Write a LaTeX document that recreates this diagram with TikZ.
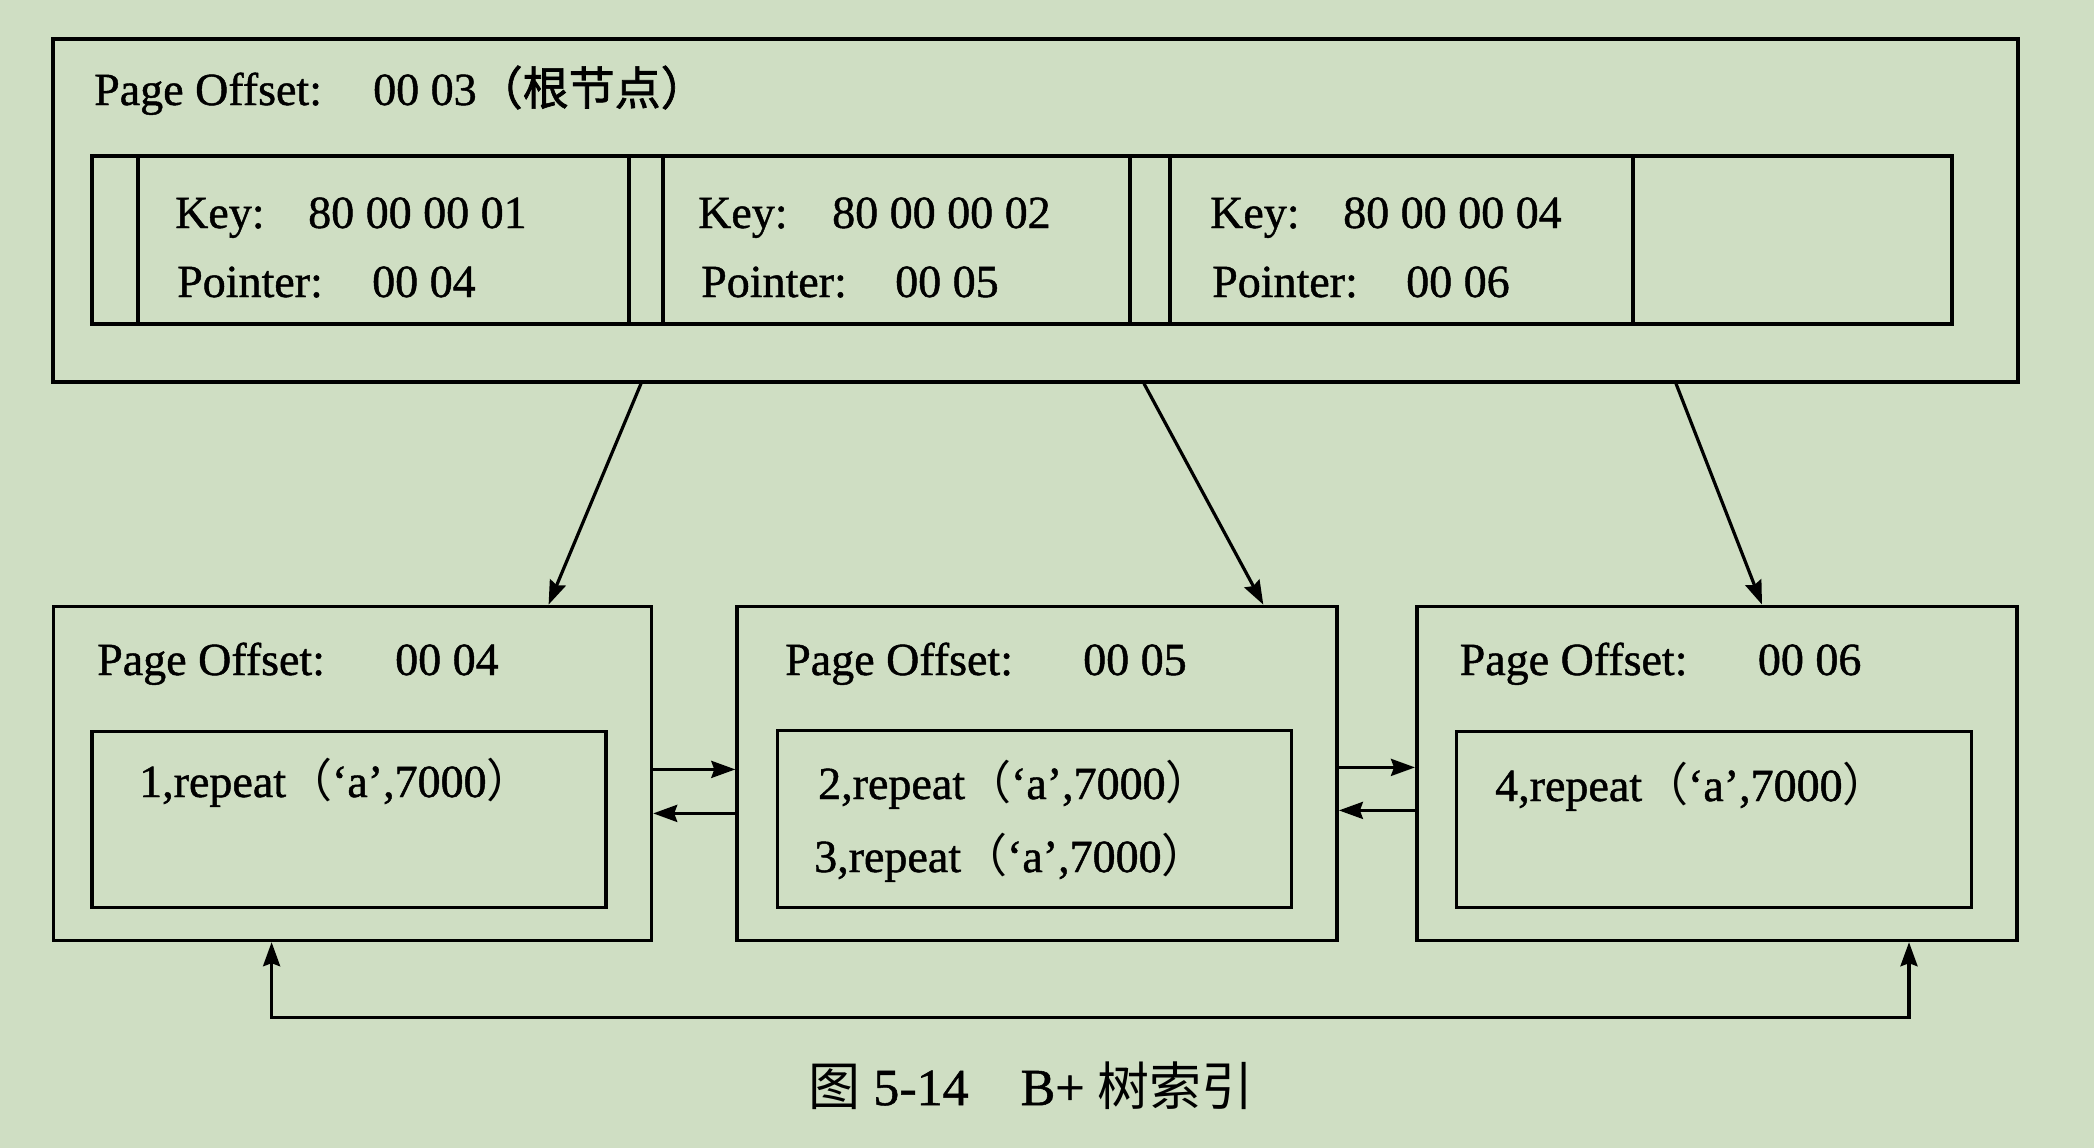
\documentclass[tikz,border=0pt]{standalone}
\usepackage{fontspec}
\setmainfont{Liberation Serif}[FakeBold=1]
\newfontfamily\cjk{Noto Sans CJK SC}
\newfontfamily\cjkb{Noto Sans CJK SC}[FakeBold=1.5]
\usetikzlibrary{arrows.meta,calc}
\definecolor{bg}{RGB}{207,222,195}
\begin{document}
\begin{tikzpicture}[x=1pt,y=-1pt,
  box/.style={draw=black, rectangle, inner sep=0pt, anchor=north west, line width=3.6pt},
  txt/.style={anchor=base west, inner sep=0pt, font=\fontsize{46}{55}\selectfont},
  conn/.style={-{Stealth[length=24pt,width=17pt,inset=3pt]}, line width=3.2pt},
  both/.style={{Stealth[length=24pt,width=17pt,inset=3pt]}-{Stealth[length=24pt,width=17pt,inset=3pt]}, line width=3.2pt},
]
\fill[bg] (0,0) rectangle (2094,1148);
\useasboundingbox (0,0) rectangle (2094,1148);

% root page
\node[box, minimum width=1965pt, minimum height=343pt] (root) at (51,37) {};
\node[txt] (rt1) at (94,105) {Page Offset:};
\node[txt] (rt2) at (373,105) {00 03{\cjkb （根节点）}};

\node[box, minimum width=46pt, minimum height=168pt] (c0) at (90,154) {};
\node[box, minimum width=491pt, minimum height=168pt] (k1) at (136,154) {};
\node[box, minimum width=34pt, minimum height=168pt] (c1) at (627,154) {};
\node[box, minimum width=467pt, minimum height=168pt] (k2) at (661,154) {};
\node[box, minimum width=40pt, minimum height=168pt] (c2) at (1128,154) {};
\node[box, minimum width=463pt, minimum height=168pt] (k3) at (1168,154) {};
\node[box, minimum width=319pt, minimum height=168pt] (c3) at (1631,154) {};

\node[txt] (k1a) at (175,228) {Key:};
\node[txt] (k1b) at (308,228) {80 00 00 01};
\node[txt] (k1c) at (177,297) {Pointer:};
\node[txt] (k1d) at (372,297) {00 04};

\node[txt] (k2a) at (698,228) {Key:};
\node[txt] (k2b) at (832,228) {80 00 00 02};
\node[txt] (k2c) at (701,297) {Pointer:};
\node[txt] (k2d) at (895,297) {00 05};

\node[txt] (k3a) at (1210,228) {Key:};
\node[txt] (k3b) at (1343,228) {80 00 00 04};
\node[txt] (k3c) at (1212,297) {Pointer:};
\node[txt] (k3d) at (1406,297) {00 06};

% leaf pages
\node[box, minimum width=598pt, minimum height=334pt] (leaf1) at (51.6,604.6) {};
\node[box, minimum width=600pt, minimum height=334pt] (leaf2) at (735.3,604.6) {};
\node[box, minimum width=600pt, minimum height=334pt] (leaf3) at (1415,604.6) {};

\node[box, minimum width=514pt, minimum height=176pt] (in1) at (90.4,729.6) {};
\node[box, minimum width=514pt, minimum height=177pt] (in2) at (775.5,728.5) {};
\node[box, minimum width=515pt, minimum height=176pt] (in3) at (1454.8,729.6) {};

\node[txt] (l1a) at (97,675) {Page Offset:};
\node[txt] (l1b) at (395,675) {00 04};
\node[txt] (l2a) at (785,675) {Page Offset:};
\node[txt] (l2b) at (1083,675) {00 05};
\node[txt] (l3a) at (1459.5,675) {Page Offset:};
\node[txt] (l3b) at (1757.7,675) {00 06};

\node[txt] (r1) at (139,797) {1,repeat{\cjk （}‘a’,7000{\cjk ）}};
\node[txt] (r2) at (818,799) {2,repeat{\cjk （}‘a’,7000{\cjk ）}};
\node[txt] (r3) at (814,872) {3,repeat{\cjk （}‘a’,7000{\cjk ）}};
\node[txt] (r4) at (1495,801) {4,repeat{\cjk （}‘a’,7000{\cjk ）}};

% root -> leaves
\draw[conn] ([xshift=590pt]root.south west) -- ([xshift=497pt]leaf1.north west);
\draw[conn] ([xshift=1093pt]root.south west) -- ([xshift=528pt]leaf2.north west);
\draw[conn] ([xshift=1625pt]root.south west) -- ([xshift=347pt]leaf3.north west);

% sibling links
\draw[conn] ([yshift=4pt]leaf1.east) -- ([yshift=4pt]leaf1.east -| leaf2.west);
\draw[conn] ([yshift=-40pt]leaf1.east -| leaf2.west) -- ([yshift=-40pt]leaf1.east);
\draw[conn] ([yshift=6pt]leaf2.east) -- ([yshift=6pt]leaf2.east -| leaf3.west);
\draw[conn] ([yshift=-37pt]leaf2.east -| leaf3.west) -- ([yshift=-37pt]leaf2.east);

% bottom loop
\draw[both] ([xshift=220pt]leaf1.south west) -- ++(0,75) -| ([xshift=494pt]leaf3.south west);

% caption
\node[anchor=base, inner sep=0pt, font=\fontsize{52}{60}\selectfont] (cap) at (1031,1105) {{\cjk 图} 5-14\hspace{1em}B+ {\cjk 树索引}};
\end{tikzpicture}
\end{document}
